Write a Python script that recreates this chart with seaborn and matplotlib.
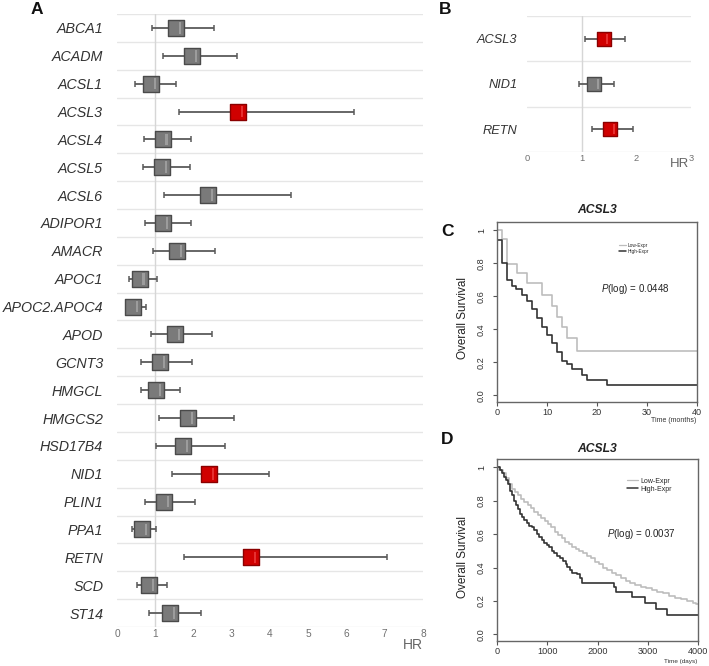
import numpy as np
import pandas as pd
import matplotlib
matplotlib.use("Agg")
import matplotlib.pyplot as plt
import seaborn as sns
from matplotlib.lines import Line2D
from matplotlib.path import Path

# ---------------- data ----------------
genes_A = ["ABCA1", "ACADM", "ACSL1", "ACSL3", "ACSL4", "ACSL5", "ACSL6", "ADIPOR1",
           "AMACR", "APOC1", "APOC2.APOC4", "APOD", "GCNT3", "HMGCL", "HMGCS2",
           "HSD17B4", "NID1", "PLIN1", "PPA1", "RETN", "SCD", "ST14"]
hr_A = [1.54, 1.96, 0.88, 3.17, 1.19, 1.17, 2.38, 1.20, 1.57, 0.59, 0.42, 1.51, 1.13,
        1.02, 1.86, 1.72, 2.41, 1.23, 0.65, 3.51, 0.84, 1.38]
lo_A = [0.92, 1.20, 0.48, 1.63, 0.71, 0.69, 1.22, 0.72, 0.94, 0.32, 0.25, 0.90, 0.64,
        0.62, 1.09, 1.02, 1.44, 0.72, 0.40, 1.74, 0.51, 0.83]
hi_A = [2.54, 3.13, 1.54, 6.20, 1.93, 1.91, 4.56, 1.94, 2.57, 1.05, 0.75, 2.49, 1.95,
        1.66, 3.07, 2.82, 3.97, 2.03, 1.03, 7.06, 1.32, 2.20]
sig_A = ["ns", "ns", "ns", "sig", "ns", "ns", "ns", "ns", "ns", "ns", "ns", "ns", "ns",
         "ns", "ns", "ns", "sig", "ns", "ns", "sig", "ns", "ns"]
ticks_A = [0, 1, 2, 3, 4, 5, 6, 7, 8]

genes_B = ["ACSL3", "NID1", "RETN"]
hr_B = [1.40, 1.23, 1.52]
lo_B = [1.07, 0.96, 1.19]
hi_B = [1.80, 1.59, 1.93]
sig_B = ["sig", "ns", "sig"]
ticks_B = [0, 1, 2, 3]

# Panel C: Kaplan-Meier (months)
t_low_C = [0, 1.0, 2.0, 3.9, 6.0, 8.9, 11.0, 11.9, 12.9, 13.9, 16.0, 40.0]
s_low_C = [1.0, 0.95, 0.793, 0.739, 0.683, 0.608, 0.542, 0.474, 0.414, 0.348, 0.271, 0.271]
t_high_C = [0, 0.9, 1.9, 2.9, 3.8, 4.9, 5.9, 6.9, 7.9, 8.9, 9.9, 10.9, 11.9, 12.9,
            13.9, 14.9, 16.9, 17.9, 22.0, 40.0]
s_high_C = [0.944, 0.80, 0.70, 0.66, 0.643, 0.61, 0.57, 0.525, 0.47, 0.415, 0.365, 0.315,
            0.26, 0.21, 0.19, 0.157, 0.125, 0.093, 0.063, 0.063]
p_C = "0.0448"

# Panel D: Kaplan-Meier (days)
t_low_D = [0, 45, 110, 170, 240, 300, 350, 420, 480, 540, 610, 680, 740, 810, 880, 950,
           1010, 1080, 1150, 1220, 1290, 1360, 1430, 1500, 1570, 1640, 1720, 1800, 1870,
           1950, 2030, 2110, 2190, 2280, 2370, 2460, 2560, 2650, 2750, 2860, 2960, 3080,
           3190, 3300, 3420, 3540, 3660, 3780, 3900, 3970, 4000]
s_low_D = [1.0, 0.985, 0.965, 0.935, 0.90, 0.87, 0.855, 0.835, 0.81, 0.795, 0.775, 0.755,
           0.735, 0.715, 0.695, 0.68, 0.66, 0.64, 0.61, 0.595, 0.575, 0.555, 0.54, 0.525,
           0.51, 0.50, 0.485, 0.47, 0.455, 0.435, 0.42, 0.40, 0.385, 0.37, 0.355, 0.335,
           0.32, 0.305, 0.295, 0.285, 0.275, 0.265, 0.255, 0.245, 0.23, 0.22, 0.21, 0.20,
           0.19, 0.18, 0.18]
t_high_D = [0, 50, 100, 140, 180, 220, 260, 300, 340, 380, 420, 460, 500, 540, 590, 640,
            690, 740, 790, 840, 890, 940, 990, 1040, 1090, 1140, 1190, 1250, 1310, 1370,
            1400, 1450, 1490, 1590, 1650, 1690, 2330, 2370, 2680, 2940, 3170, 3390, 4000]
s_high_D = [1.0, 0.985, 0.965, 0.945, 0.925, 0.90, 0.86, 0.835, 0.80, 0.775, 0.75, 0.72,
            0.70, 0.685, 0.665, 0.65, 0.64, 0.625, 0.60, 0.585, 0.565, 0.545, 0.535,
            0.52, 0.50, 0.485, 0.47, 0.455, 0.44, 0.42, 0.405, 0.385, 0.37, 0.36, 0.335,
            0.31, 0.285, 0.255, 0.225, 0.19, 0.15, 0.115, 0.115]
p_D = "0.0037"

# ---------------- style ----------------
sns.set_theme(style="white")
plt.rcParams["font.family"] = ["Liberation Sans", "DejaVu Sans"]
plt.rcParams["mathtext.fontset"] = "custom"
plt.rcParams["mathtext.it"] = "Liberation Sans:italic"
plt.rcParams["mathtext.rm"] = "Liberation Sans"

W, H = 709, 666
fig = plt.figure(figsize=(W / 100, H / 100), dpi=100)
fig.patch.set_facecolor("white")


def rect(l, t, r, b):
    return [l / W, 1 - b / H, (r - l) / W, (b - t) / H]


GREY_FACE, GREY_EDGE, GREY_HI = "#7a7a7a", "#4a4a4a", "#9c9c9c"
RED_FACE, RED_EDGE, RED_HI = "#d00000", "#8a0000", "#e63030"
WHISK = "#5a5a5a"

# bevel highlight stripe (marker glyph; the two MOVETO corners keep square scale)
STRIPE = Path([(-1, -1), (1, 1), (0.36, -0.72), (0.62, -0.72), (0.62, 0.72),
               (0.36, 0.72), (0.36, -0.72)],
              [Path.MOVETO, Path.MOVETO, Path.MOVETO, Path.LINETO, Path.LINETO,
               Path.LINETO, Path.CLOSEPOLY])


def forest(ax, genes, hr, lo, hi, sig, ticks, xmax, msize, label_size, tick_size, pad):
    n = len(genes)
    df = pd.DataFrame({"gene": genes, "pos": np.arange(n), "hr": hr, "lo": lo,
                       "hi": hi, "sig": sig})
    for i in range(n + 1):
        ax.axhline(i - 0.5, color="#e6e6e6", lw=1.0, zorder=0)
    ax.axvline(1, color="#d6d6d6", lw=1.0, zorder=0)
    ax.errorbar(df["hr"], df["pos"], xerr=[df["hr"] - df["lo"], df["hi"] - df["hr"]],
                fmt="none", ecolor=WHISK, elinewidth=1.3, capsize=2.2, capthick=1.1,
                zorder=2)
    for key, fc, ec, hc in [("ns", GREY_FACE, GREY_EDGE, GREY_HI),
                            ("sig", RED_FACE, RED_EDGE, RED_HI)]:
        sub = df[df["sig"] == key]
        if len(sub):
            sns.scatterplot(data=sub, x="hr", y="pos", marker="s", s=msize, color=fc,
                            edgecolor=ec, linewidth=1.0, legend=False, ax=ax, zorder=3)
            sns.scatterplot(data=sub, x="hr", y="pos", marker=STRIPE, s=msize, color=hc,
                            edgecolor="none", linewidth=0, legend=False, ax=ax, zorder=4)
    ax.set_xlim(0, xmax)
    ax.set_ylim(n - 0.5, -0.5)
    ax.set_yticks(df["pos"])
    ax.set_yticklabels(genes, fontsize=label_size, style="italic", color="#333333")
    ax.set_xticks(ticks)
    ax.set_xticklabels([str(t) for t in ticks], fontsize=tick_size, color="#707070")
    ax.tick_params(axis="y", length=0, pad=pad)
    ax.tick_params(axis="x", length=0, pad=1.5)
    ax.set_xlabel("")
    ax.set_ylabel("")
    for s in ax.spines.values():
        s.set_visible(False)
    ax.set_facecolor("white")


axA = fig.add_axes(rect(117, 14, 423, 627))
forest(axA, genes_A, hr_A, lo_A, hi_A, sig_A, ticks_A, 8, 135, 10.3, 7.3, 10)
fig.text(423 / W, 1 - 645 / H, "HR", ha="right", va="center", fontsize=10, color="#666666")

axB = fig.add_axes(rect(527, 16, 691, 152))
forest(axB, genes_B, hr_B, lo_B, hi_B, sig_B, ticks_B, 3, 105, 9.2, 6.7, 7)
fig.text(689 / W, 1 - 164 / H, "HR", ha="right", va="center", fontsize=9.5, color="#666666")


def km(ax, t_low, s_low, t_high, s_high, xmax, xticks, leg_x, leg_y,
       leg_fs, leg_hl, leg_sp):
    d_low = pd.DataFrame({"t": t_low, "s": s_low})
    d_high = pd.DataFrame({"t": t_high, "s": s_high})
    sns.lineplot(data=d_low, x="t", y="s", drawstyle="steps-post", estimator=None,
                 sort=False, color="#bdbdbd", lw=1.2, ax=ax)
    sns.lineplot(data=d_high, x="t", y="s", drawstyle="steps-post", estimator=None,
                 sort=False, color="#333333", lw=1.2, ax=ax)
    ax.set_xlim(0, xmax)
    ax.set_ylim(-0.04, 1.05)
    ax.set_xticks(xticks)
    ax.set_xticklabels([str(x) for x in xticks])
    ax.set_yticks([0, 0.2, 0.4, 0.6, 0.8, 1.0])
    ax.set_yticklabels(["0.0", "0.2", "0.4", "0.6", "0.8", "1"], rotation=90, va="center")
    ax.tick_params(axis="both", direction="out", length=3, width=0.8, color="#555555",
                   labelsize=6.6, labelcolor="#333333", bottom=True, left=True)
    ax.tick_params(axis="y", pad=5)
    ax.tick_params(axis="x", pad=1.5)
    for s in ax.spines.values():
        s.set_visible(True)
        s.set_color("#666666")
        s.set_linewidth(1.0)
    ax.set_xlabel("")
    ax.set_ylabel("")
    ax.set_facecolor("white")
    handles = [Line2D([], [], color="#bdbdbd", lw=0.9), Line2D([], [], color="#333333", lw=1.1)]
    ax.legend(handles, ["Low-Expr", "High-Expr"], loc="center left",
              bbox_to_anchor=(leg_x, leg_y), frameon=False, fontsize=leg_fs,
              handlelength=leg_hl, handletextpad=0.4, labelspacing=leg_sp, borderpad=0,
              borderaxespad=0)


axC = fig.add_axes(rect(497, 222, 697, 402))
km(axC, t_low_C, s_low_C, t_high_C, s_high_C, 40, [0, 10, 20, 30, 40],
   0.61, 0.854, 3.4, 1.5, 0.25)
fig.text(601 / W, 1 - 289 / H, r"$\it{P}$(log) = " + p_C, ha="left", va="center",
         fontsize=7, color="#222222")
fig.text(597 / W, 1 - 210 / H, "ACSL3", ha="center", va="center", fontsize=8.7,
         fontweight="bold", style="italic", color="#222222")
fig.text(463 / W, 1 - 318 / H, "Overall Survival", rotation=90, ha="center", va="center",
         fontsize=8.5, color="#222222")
fig.text(696 / W, 1 - 420 / H, "Time (months)", ha="right", va="center", fontsize=5.0,
         color="#333333")

axD = fig.add_axes(rect(497, 459, 698, 641))
km(axD, t_low_D, s_low_D, t_high_D, s_high_D, 4000, [0, 1000, 2000, 3000, 4000],
   0.645, 0.856, 5.0, 1.6, 0.15)
fig.text(607 / W, 1 - 534 / H, r"$\it{P}$(log) = " + p_D, ha="left", va="center",
         fontsize=7, color="#222222")
fig.text(597 / W, 1 - 449 / H, "ACSL3", ha="center", va="center", fontsize=8.7,
         fontweight="bold", style="italic", color="#222222")
fig.text(463 / W, 1 - 557 / H, "Overall Survival", rotation=90, ha="center", va="center",
         fontsize=8.5, color="#222222")
fig.text(697 / W, 1 - 661 / H, "Time (days)", ha="right", va="center", fontsize=4.6,
         color="#333333")

# panel letters
for lab, x, y in [("A", 37, 10), ("B", 445, 9), ("C", 448, 232), ("D", 447, 439)]:
    fig.text(x / W, 1 - y / H, lab, ha="center", va="center", fontsize=12.5,
             fontweight="bold", color="#111111")

fig.savefig("out.png", dpi=100, facecolor="white")
